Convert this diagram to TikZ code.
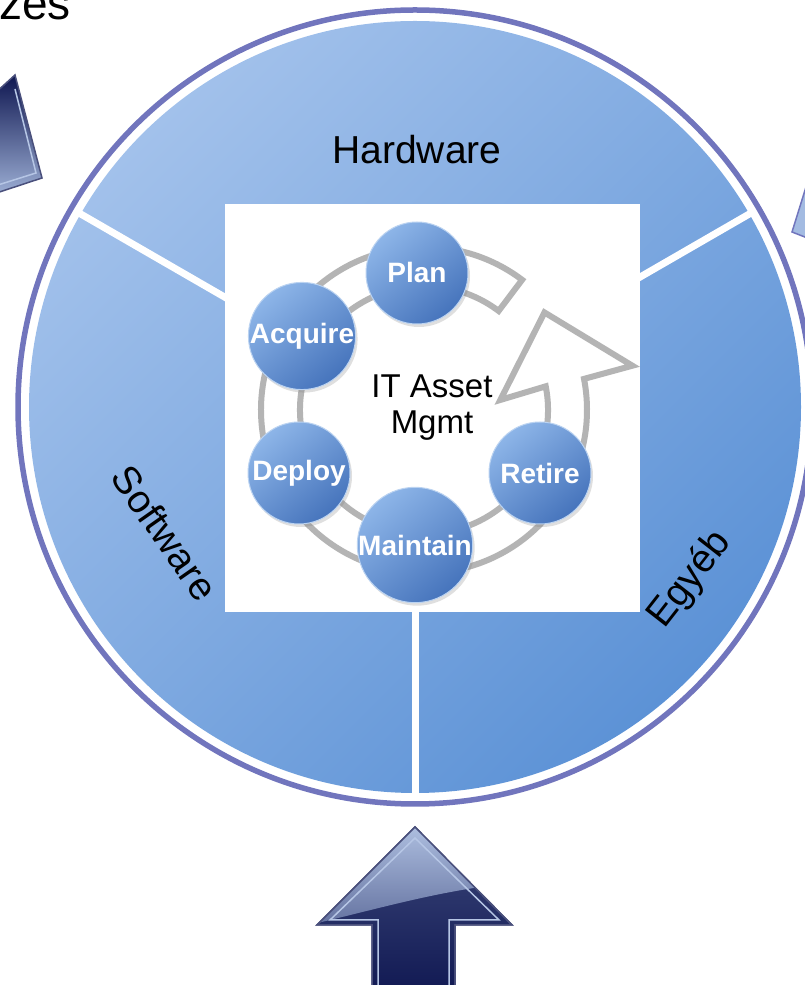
\documentclass[tikz,border=0pt]{standalone}
\usepackage{fontspec}
\setmainfont{Liberation Sans}
\usetikzlibrary{shadows}
\definecolor{ringblue}{HTML}{7175BD}
\definecolor{disklight}{HTML}{A2C1EB}
\definecolor{diskdark}{HTML}{5C92D6}
\definecolor{phaselight}{HTML}{8DB5E8}
\definecolor{phasedark}{HTML}{4674BC}
\definecolor{bandgray}{HTML}{B4B4B4}
\definecolor{navy}{HTML}{0E1650}
\definecolor{steel}{HTML}{A9BCE0}
\newcommand{\arrowoutline}{(415,158) -- (512,60) -- (455,60) -- (455,-20) -- (372,-20) -- (372,60) -- (317,60) -- cycle}
\begin{document}
\begin{tikzpicture}[x=1pt,y=1pt,
  phase/.style={circle, minimum size=102pt, inner sep=0pt, draw=phaselight!60!white, line width=1pt,
    top color=phaselight, bottom color=phasedark, shading angle=40,
    drop shadow={opacity=0.25, shadow xshift=2pt, shadow yshift=-3pt},
    text=white, font=\fontsize{28}{30}\selectfont\bfseries},
  sector/.style={font=\fontsize{39}{46}\selectfont},
  divider/.style={white, line width=7pt},
  bigarrow/.style={draw=navy!75!white, line width=1.5pt, top color=navy!70!steel, bottom color=navy}]
\useasboundingbox (0,0) rectangle (805,985);
\clip (0,0) rectangle (805,985);
% outer wheel
\coordinate (c) at (415,578);
\draw[ringblue, line width=5.5pt] (c) circle (397);
\shade[top color=disklight, bottom color=diskdark, shading angle=45] (c) circle (386);
\foreach \a in {30,150,270} \draw[divider] (c) -- ++(\a:389);
\fill[white] (225,373) rectangle (640,781);
\node[sector] (hw) at (417,835) {Hardware};
\node[sector, rotate=-55] (sw) at (165,452) {Software};
\node[sector, rotate=52] (eg) at (690,405) {Egyéb};
% life cycle
\coordinate (m) at (424,575);
\draw[bandgray, line width=6pt, fill=white] ([shift={(53:163)}]m) arc[start angle=53, end angle=371, radius=163]
  -- ([shift={(12:213)}]m) -- ([shift={(39:155)}]m) -- ([shift={(7.5:77)}]m)
  -- ([shift={(11:124)}]m) arc[start angle=11, end angle=-307, radius=124] -- cycle;
\foreach \n/\x/\y/\t in {plan/417/712/Plan, acquire/302/649/Acquire, deploy/299/512/Deploy, maintain/415/440/Maintain, retire/540/512/Retire}
  \node[phase] (\n) at (\x,\y) {\t};
\node[font=\fontsize{33}{36}\selectfont, align=center] (itam) at (432,577) {IT Asset\\Mgmt};
% arrows round the wheel
\draw[bigarrow] \arrowoutline;
\begin{scope}
  \clip \arrowoutline;
  \shade[top color=steel!90!white, bottom color=steel!55!navy] (300,165) -- (530,165) -- (530,104) .. controls (440,96) and (380,76) .. (300,58) -- cycle;
\end{scope}
\draw[navy!75!white, line width=1.5pt] \arrowoutline;
\draw[steel!85!white, line width=1.5pt] (415,147) -- (499,65) -- (449,65) -- (449,-20) -- (378,-20) -- (378,65) -- (330,65) -- cycle;
\draw[bigarrow, top color=navy, bottom color=steel] (15,910) -- (42,807) -- (-40,780) -- (-40,860) -- cycle;
\draw[steel!85!white, line width=1.5pt] (15,896) -- (36,812) -- (-40,788);
\draw[ringblue, line width=1.5pt, fill=steel!80!phaselight] (792,753) -- (815,827) -- (815,744) -- cycle;
\node[anchor=base west, inner sep=0pt, font=\fontsize{46}{52}\selectfont] (zes) at (-1,965) {zes};
\end{tikzpicture}
\end{document}
